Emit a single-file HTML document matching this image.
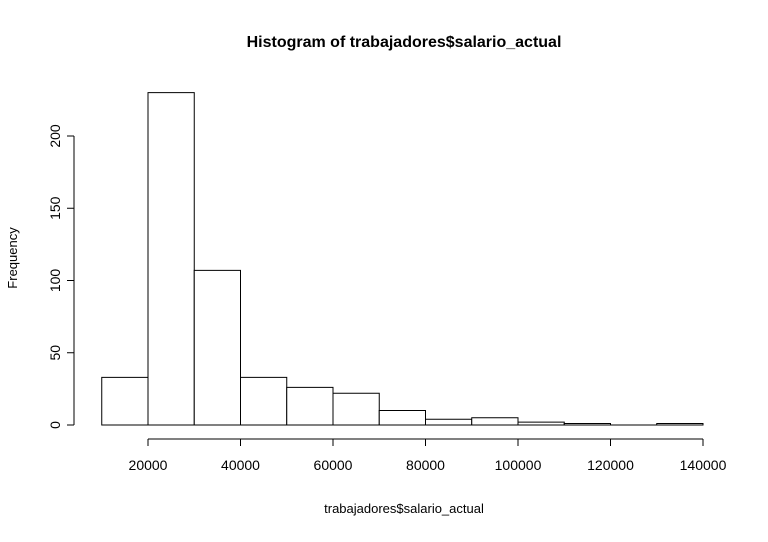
<!DOCTYPE html>
<html><head><meta charset="utf-8"><style>
body{margin:0;background:#fff;}
svg text{font-family:"Liberation Sans",Arial,sans-serif;fill:#000;}
</style></head><body>
<svg id="chart" width="768" height="537" viewBox="0 0 768 537">
<text x="404" y="47" font-size="16" font-weight="bold" text-anchor="middle">Histogram of trabajadores$salario_actual</text>
<text x="404" y="513" font-size="13" text-anchor="middle">trabajadores$salario_actual</text>
<text transform="translate(17,258) rotate(-90)" font-size="13" text-anchor="middle">Frequency</text>
<g id="bars"></g><g id="xaxis"></g><g id="yaxis"></g>
</svg>
<script>
const binStarts=[10000,20000,30000,40000,50000,60000,70000,80000,90000,100000,110000,120000,130000];
const counts=[33,230,107,33,26,22,10,4,5,2,1,0,1];
const binWidth=10000;
const xTicks=[20000,40000,60000,80000,100000,120000,140000];
const yTicks=[0,50,100,150,200];
const NS="http://www.w3.org/2000/svg";
function sx(v){return 148+(v-20000)*555/120000;}
function sy(v){return 425-v*1.445;}
function mk(tag,attrs,parent){const e=document.createElementNS(NS,tag);for(const k in attrs)e.setAttribute(k,attrs[k]);parent.appendChild(e);return e;}
const bars=document.getElementById('bars');
binStarts.forEach((b,i)=>{
 const x0=sx(b),x1=sx(b+binWidth),y=sy(counts[i]);
 const r=mk('path',{d:`M${x0},425 L${x0},${y} L${x1},${y} L${x1},425 Z`,fill:'#fff',stroke:'#000','stroke-width':1},bars);
 
 
});
const xa=document.getElementById('xaxis');
mk('line',{x1:sx(xTicks[0]),x2:sx(xTicks[xTicks.length-1]),y1:439,y2:439,stroke:'#000'},xa);
xTicks.forEach(t=>{
 mk('line',{x1:sx(t),x2:sx(t),y1:439,y2:446,stroke:'#000'},xa);
 const tx=mk('text',{x:sx(t),y:470,'font-size':14,'text-anchor':'middle'},xa);
 tx.textContent=t;
 
 
});
const ya=document.getElementById('yaxis');
mk('line',{x1:74,x2:74,y1:sy(yTicks[0]),y2:sy(yTicks[yTicks.length-1]),stroke:'#000'},ya);
yTicks.forEach(t=>{
 mk('line',{x1:67,x2:74,y1:sy(t),y2:sy(t),stroke:'#000'},ya);
 const tx=mk('text',{transform:`translate(60,${sy(t)}) rotate(-90)`,'font-size':14,'text-anchor':'middle'},ya);
 tx.textContent=t;
 
 
});
</script>
</body></html>
